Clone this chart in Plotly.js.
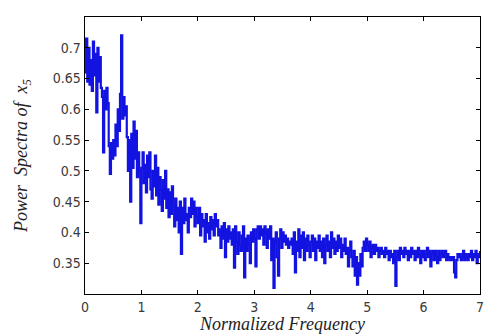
<!DOCTYPE html>
<html>
<head>
<meta charset="utf-8">
<script src="https://cdn.plot.ly/plotly-3.0.1.min.js"></script>
<style>
  html, body { margin: 0; padding: 0; background: #fff; }
  #chart { width: 485px; height: 334px; }
</style>
</head>
<body>
<div id="chart"></div>
<script>
// Power spectrum of x5, sampled every 0.02 in normalized frequency (0 .. 7).
// One array per unit of frequency.
const band0 = [0.66, 0.715, 0.645, 0.70, 0.64, 0.68, 0.63, 0.71, 0.655, 0.69,
               0.595, 0.70, 0.645, 0.685, 0.635, 0.62, 0.53, 0.63, 0.60, 0.635,
               0.61, 0.54, 0.495, 0.545, 0.52, 0.55, 0.525, 0.575, 0.54, 0.60,
               0.565, 0.625, 0.72, 0.585, 0.62, 0.59, 0.605, 0.555, 0.50, 0.55,
               0.45, 0.56, 0.505, 0.58, 0.52, 0.565, 0.49, 0.53, 0.50, 0.415];
const band1 = [0.505, 0.53, 0.48, 0.51, 0.465, 0.525, 0.49, 0.53, 0.47, 0.455,
               0.50, 0.475, 0.525, 0.46, 0.505, 0.445, 0.49, 0.47, 0.435, 0.485,
               0.455, 0.50, 0.44, 0.47, 0.425, 0.465, 0.43, 0.475, 0.445, 0.41,
               0.455, 0.42, 0.44, 0.40, 0.45, 0.365, 0.44, 0.415, 0.455, 0.42,
               0.43, 0.40, 0.44, 0.425, 0.455, 0.43, 0.45, 0.41, 0.44, 0.425];
const band2 = [0.415, 0.44, 0.395, 0.43, 0.41, 0.42, 0.385, 0.43, 0.40, 0.415,
               0.39, 0.425, 0.405, 0.42, 0.395, 0.43, 0.41, 0.42, 0.395, 0.405,
               0.375, 0.41, 0.39, 0.415, 0.36, 0.405, 0.385, 0.41, 0.39, 0.40,
               0.38, 0.405, 0.343, 0.41, 0.385, 0.365, 0.40, 0.38, 0.37, 0.395,
               0.41, 0.327, 0.39, 0.37, 0.395, 0.38, 0.35, 0.40, 0.385, 0.405];
const band3 = [0.39, 0.345, 0.405, 0.41, 0.39, 0.41, 0.395, 0.405, 0.38, 0.41,
               0.40, 0.375, 0.405, 0.39, 0.41, 0.355, 0.39, 0.31, 0.385, 0.40,
               0.36, 0.33, 0.39, 0.405, 0.375, 0.40, 0.385, 0.395, 0.38, 0.39,
               0.375, 0.385, 0.38, 0.39, 0.365, 0.40, 0.335, 0.385, 0.37, 0.405,
               0.36, 0.395, 0.375, 0.40, 0.355, 0.39, 0.37, 0.395, 0.38, 0.36];
const band4 = [0.385, 0.395, 0.37, 0.39, 0.355, 0.385, 0.375, 0.395, 0.37, 0.385,
               0.36, 0.39, 0.35, 0.38, 0.395, 0.37, 0.385, 0.36, 0.40, 0.375,
               0.39, 0.365, 0.385, 0.37, 0.395, 0.375, 0.39, 0.36, 0.38, 0.37,
               0.39, 0.365, 0.375, 0.345, 0.37, 0.385, 0.36, 0.345, 0.37, 0.33,
               0.36, 0.315, 0.35, 0.33, 0.365, 0.345, 0.375, 0.385, 0.37, 0.39];
const band5 = [0.38, 0.37, 0.385, 0.36, 0.375, 0.38, 0.365, 0.38, 0.37, 0.375,
               0.36, 0.37, 0.375, 0.365, 0.37, 0.36, 0.375, 0.365, 0.37, 0.355,
               0.37, 0.36, 0.365, 0.35, 0.37, 0.313, 0.36, 0.37, 0.355, 0.375,
               0.365, 0.37, 0.36, 0.375, 0.365, 0.37, 0.355, 0.37, 0.36, 0.375,
               0.365, 0.37, 0.355, 0.37, 0.36, 0.375, 0.365, 0.35, 0.37, 0.36];
const band6 = [0.37, 0.355, 0.365, 0.375, 0.36, 0.37, 0.345, 0.365, 0.37, 0.355,
               0.37, 0.36, 0.35, 0.37, 0.355, 0.365, 0.37, 0.36, 0.365, 0.37,
               0.355, 0.365, 0.36, 0.355, 0.36, 0.355, 0.36, 0.335, 0.327, 0.355,
               0.365, 0.36, 0.365, 0.355, 0.36, 0.37, 0.355, 0.365, 0.36, 0.355,
               0.365, 0.36, 0.37, 0.355, 0.365, 0.36, 0.37, 0.35, 0.365, 0.36,
               0.37];

const freqStep = 0.02;
const power = [].concat(band0, band1, band2, band3, band4, band5, band6);
const freq = power.map((_, i) => +(i * freqStep).toFixed(4));

const xTicks = [0, 1, 2, 3, 4, 5, 6, 7];
const yTicks = [0.35, 0.4, 0.45, 0.5, 0.55, 0.6, 0.65, 0.7];

const tickFont = { family: '"Liberation Sans Narrow", "DejaVu Sans Condensed", Arial, sans-serif', size: 14, color: '#3a3a3a' };
const titleFont = { family: '"Liberation Serif", "Times New Roman", serif', size: 18, color: '#222', style: 'italic' };

const trace = {
  x: freq,
  y: power,
  type: 'scatter',
  mode: 'lines',
  line: { color: 'rgb(18,18,225)', width: 2.2, shape: 'hv' },
  hoverinfo: 'x+y'
};

const axisCommon = {
  showline: true,
  linecolor: '#000',
  linewidth: 1.3,
  mirror: 'ticks',
  ticks: 'inside',
  ticklen: 4,
  tickwidth: 1,
  tickcolor: '#000',
  showgrid: false,
  zeroline: false,
  ticklabeloverflow: 'allow',
  tickfont: tickFont
};

const layout = {
  width: 485,
  height: 334,
  margin: { l: 85, r: 5, t: 17, b: 40 },
  paper_bgcolor: '#fff',
  plot_bgcolor: '#fff',
  showlegend: false,
  xaxis: Object.assign({}, axisCommon, {
    range: [0, 7],
    tickvals: xTicks,
    ticktext: xTicks.map(String),
    title: { text: 'Normalized Frequency', font: titleFont, standoff: 2 }
  }),
  yaxis: Object.assign({}, axisCommon, {
    range: [0.3, 0.75],
    tickvals: yTicks,
    ticktext: yTicks.map(String),
    title: { text: 'Power  Spectra of  x<sub>5</sub>', font: titleFont, standoff: 20 }
  })
};

Plotly.newPlot('chart', [trace], layout, { displayModeBar: false, staticPlot: true });
</script>
</body>
</html>
